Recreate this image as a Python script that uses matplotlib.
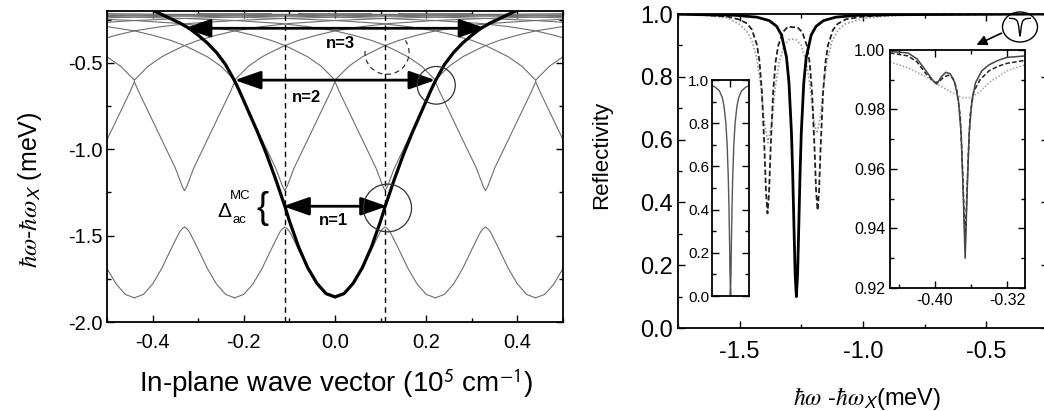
import numpy as np
import matplotlib
matplotlib.use("Agg")
import matplotlib.pyplot as plt
from matplotlib.patches import Ellipse, Arc, FancyArrowPatch
from matplotlib.ticker import MultipleLocator, FixedLocator

plt.rcParams["font.family"] = ["Liberation Sans", "DejaVu Sans"]
plt.rcParams["mathtext.fontset"] = "stix"

# ---- left panel: folded polariton dispersion (meV vs 1e5 cm^-1) ----
G = 0.22  # folding period

BOLD_K = [0.0, 0.02, 0.04, 0.06, 0.08, 0.10, 0.11, 0.13, 0.15, 0.17, 0.19,
          0.21, 0.22, 0.24, 0.26, 0.28, 0.30, 0.32, 0.34, 0.36, 0.38, 0.40]
BOLD_E = [-1.855, -1.835, -1.775, -1.685, -1.565, -1.415, -1.33, -1.175, -1.03,
          -0.90, -0.78, -0.66, -0.605, -0.51, -0.44, -0.385, -0.34, -0.30,
          -0.27, -0.245, -0.22, -0.195]

# lowest band, one period
BAND1_K = [0.0, 0.02, 0.04, 0.06, 0.08, 0.095, 0.10, 0.105, 0.11, 0.115, 0.12,
           0.125, 0.14, 0.16, 0.18, 0.20, 0.22]
BAND1_E = [-1.86, -1.84, -1.78, -1.69, -1.58, -1.50, -1.475, -1.46, -1.45,
           -1.46, -1.475, -1.50, -1.58, -1.69, -1.78, -1.84, -1.86]

# second band, one period
BAND2_K = [0.0, 0.01, 0.03, 0.05, 0.07, 0.09, 0.10, 0.105, 0.11, 0.115, 0.12,
           0.13, 0.15, 0.17, 0.19, 0.21, 0.22]
BAND2_E = [-0.61, -0.67, -0.78, -0.89, -1.00, -1.11, -1.18, -1.215, -1.24,
           -1.215, -1.18, -1.11, -1.00, -0.89, -0.78, -0.67, -0.61]

# upper folded branches (distance from branch centre)
UP_Q = [0.22, 0.25, 0.28, 0.31, 0.33, 0.36, 0.40, 0.44, 0.50, 0.56, 0.66,
        0.77, 0.88, 1.0, 1.2, 1.4]
UP_E = [-0.60, -0.52, -0.465, -0.425, -0.40, -0.37, -0.34, -0.315, -0.29,
        -0.272, -0.255, -0.243, -0.235, -0.228, -0.22, -0.215]

# ---- right panel: reflectivity spectra ----
SOLID_X = [-1.75, -1.67, -1.52, -1.43, -1.38, -1.35, -1.33, -1.31, -1.30, -1.29,
           -1.285, -1.28, -1.275, -1.27, -1.265, -1.26, -1.255, -1.25, -1.24,
           -1.23, -1.21, -1.19, -1.16, -1.11, -1.02, -0.87, -0.25]
SOLID_R = [1.0, 0.998, 0.996, 0.99, 0.979, 0.961, 0.933, 0.862, 0.781, 0.623,
           0.494, 0.331, 0.172, 0.10, 0.172, 0.331, 0.494, 0.623, 0.781, 0.862,
           0.933, 0.961, 0.979, 0.99, 0.996, 0.998, 1.0]

DASH_X = [-1.75, -1.65, -1.55, -1.50, -1.47, -1.45, -1.43, -1.42, -1.41, -1.40,
          -1.393, -1.387, -1.381, -1.374, -1.364, -1.354, -1.344, -1.324, -1.304,
          -1.285, -1.266, -1.246, -1.226, -1.216, -1.206, -1.196, -1.19, -1.184,
          -1.178, -1.172, -1.162, -1.152, -1.142, -1.122, -1.102, -1.07, -1.0,
          -0.9, -0.75, -0.25]
DASH_R = [0.999, 0.997, 0.992, 0.982, 0.970, 0.950, 0.902, 0.852, 0.756, 0.582,
          0.43, 0.365, 0.428, 0.58, 0.754, 0.849, 0.898, 0.943, 0.96, 0.958,
          0.958, 0.942, 0.896, 0.844, 0.745, 0.565, 0.436, 0.375, 0.437, 0.57,
          0.747, 0.847, 0.90, 0.949, 0.969, 0.983, 0.992, 0.996, 0.998, 1.0]

DOT_X = [-1.75, -1.65, -1.55, -1.50, -1.47, -1.45, -1.43, -1.415, -1.40, -1.385,
         -1.37, -1.355, -1.34, -1.32, -1.30, -1.286, -1.27, -1.25, -1.23, -1.215,
         -1.20, -1.187, -1.174, -1.16, -1.145, -1.125, -1.10, -1.07, -1.0, -0.9,
         -0.75, -0.5, -0.25]
DOT_R = [0.999, 0.997, 0.988, 0.967, 0.944, 0.915, 0.856, 0.775, 0.656, 0.59,
         0.653, 0.769, 0.846, 0.899, 0.918, 0.92, 0.918, 0.90, 0.848, 0.771,
         0.662, 0.62, 0.665, 0.77, 0.853, 0.914, 0.950, 0.969, 0.986, 0.994,
         0.997, 0.999, 0.999]

# left inset (full-scale view of one dip)
IN1_X = [-1.0, -0.8, -0.6, -0.45, -0.35, -0.25, -0.18, -0.12, -0.08, -0.05,
         -0.03, 0.0, 0.03, 0.05, 0.08, 0.12, 0.18, 0.25, 0.35, 0.45, 0.6, 0.8, 1.0]
IN1_R = [0.975, 0.965, 0.95, 0.92, 0.88, 0.80, 0.70, 0.55, 0.40, 0.25, 0.12,
         0.0, 0.12, 0.25, 0.40, 0.55, 0.70, 0.80, 0.88, 0.92, 0.95, 0.965, 0.975]

# right inset (zoom near the exciton)
IN2_SX = [-0.45, -0.43, -0.42, -0.41, -0.403, -0.398, -0.393, -0.388, -0.383,
          -0.378, -0.374, -0.371, -0.369, -0.3675, -0.3665, -0.3655, -0.364,
          -0.362, -0.359, -0.355, -0.348, -0.34, -0.33, -0.32, -0.30]
IN2_SR = [0.9995, 0.999, 0.997, 0.993, 0.990, 0.9885, 0.991, 0.9925, 0.992,
          0.989, 0.983, 0.972, 0.955, 0.94, 0.93, 0.94, 0.955, 0.972, 0.983,
          0.989, 0.993, 0.995, 0.9965, 0.9975, 0.998]
IN2_DX = [-0.45, -0.43, -0.42, -0.41, -0.40, -0.395, -0.39, -0.385, -0.38,
          -0.376, -0.372, -0.37, -0.368, -0.3665, -0.365, -0.363, -0.361,
          -0.357, -0.35, -0.34, -0.33, -0.32, -0.30]
IN2_DR = [0.999, 0.998, 0.996, 0.992, 0.989, 0.9895, 0.991, 0.9915, 0.9905,
          0.987, 0.978, 0.965, 0.948, 0.935, 0.948, 0.965, 0.978, 0.986, 0.990,
          0.993, 0.9945, 0.9955, 0.9965]
IN2_GX = [-0.45, -0.43, -0.41, -0.395, -0.38, -0.37, -0.36, -0.35, -0.34,
          -0.33, -0.32, -0.30]
IN2_GR = [0.996, 0.994, 0.991, 0.988, 0.9855, 0.984, 0.984, 0.986, 0.989,
          0.991, 0.993, 0.995]


def style_ticks(ax, size):
    ax.tick_params(which="both", direction="in", top=True, right=True,
                   labelsize=size, width=1.0)
    ax.tick_params(which="major", length=5)
    ax.tick_params(which="minor", length=3)
    for s in ax.spines.values():
        s.set_linewidth(1.3)


fig = plt.figure(figsize=(10.44, 4.11), dpi=100)

# ── left panel ────────────────────────────────────────────────────────────
ax = fig.add_axes([0.1025, 0.2165, 0.4368, 0.7567])
thin = dict(color="#6e6e6e", lw=0.8)
b1k, b1e = np.array(BAND1_K), np.array(BAND1_E)
b2k, b2e = np.array(BAND2_K), np.array(BAND2_E)
uq, ue = np.array(UP_Q), np.array(UP_E)
for m in range(-4, 4):
    ax.plot(b1k + m * G, b1e, **thin)
    ax.plot(b2k + m * G, b2e, **thin)
for m in range(-7, 8):
    ax.plot(m * G + uq, ue, **thin)
    ax.plot(m * G - uq, ue, **thin)

bk = np.array(BOLD_K)
ax.plot(np.r_[-bk[::-1], bk[1:]], np.r_[BOLD_E[::-1], BOLD_E[1:]],
        color="black", lw=2.3, zorder=5)

for x in (-0.11, 0.11):
    ax.axvline(x, color="black", lw=1.0, ls=(0, (4, 3)), zorder=4)

arrow = dict(arrowstyle="<|-|>,head_length=0.8,head_width=0.28",
             color="black", lw=2.0, mutation_scale=20, shrinkA=0, shrinkB=0)
for k0, k1, e in ((-0.114, 0.114, -1.33), (-0.22, 0.22, -0.60), (-0.33, 0.33, -0.30)):
    ax.annotate("", xy=(k1, e), xytext=(k0, e), arrowprops=arrow, zorder=6)

ax.text(-0.004, -1.414, "n=1", fontsize=12, fontweight="bold", ha="center", va="center")
ax.text(-0.062, -0.70, "n=2", fontsize=12, fontweight="bold", ha="center", va="center")
ax.text(0.011, -0.39, "n=3", fontsize=12, fontweight="bold", ha="center", va="center")

ax.add_patch(Ellipse((0.115, -1.34), 0.1055, 0.276, fill=False, lw=0.9, color="#333", zorder=6))
ax.add_patch(Ellipse((0.222, -0.63), 0.0835, 0.218, fill=False, lw=0.9, color="#333", zorder=6))
ax.add_patch(Arc((0.114, -0.44), 0.0967, 0.253, theta1=170, theta2=420,
                 lw=0.9, color="#333", ls=(0, (4, 3)), zorder=6))

ax.text(-0.242, -1.36, "Δ", fontsize=15, ha="center", va="center")
ax.text(-0.207, -1.27, "MC", fontsize=9.5, ha="center", va="center")
ax.text(-0.209, -1.408, "ac", fontsize=9.5, ha="center", va="center")
ax.text(-0.16, -1.345, "{", fontsize=26, ha="center", va="center", fontweight="light")

ax.set_xlim(-0.5, 0.5)
ax.set_ylim(-2.0, -0.2)
ax.xaxis.set_major_locator(FixedLocator([-0.4, -0.2, 0.0, 0.2, 0.4]))
ax.xaxis.set_minor_locator(MultipleLocator(0.1))
ax.yaxis.set_major_locator(FixedLocator([-2.0, -1.5, -1.0, -0.5]))
ax.yaxis.set_minor_locator(MultipleLocator(0.25))
ax.xaxis.set_major_formatter(plt.FormatStrFormatter("%.1f"))
ax.yaxis.set_major_formatter(plt.FormatStrFormatter("%.1f"))
style_ticks(ax, 14.5)
ax.tick_params(axis="x", pad=8)

fig.text(336 / 1044, 1 - 383 / 411,
         r"In-plane wave vector (10$^{\mathsf{5}}$ cm$^{\mathsf{-1}}$)",
         fontsize=20, ha="center", va="center")
fig.text(30 / 1044, 1 - 190 / 411,
         r"$\hbar\omega$-$\hbar\omega_{\mathsf{X}}$ (meV)",
         fontsize=18, ha="center", va="center", rotation=90)

# ── right panel ───────────────────────────────────────────────────────────
ax2 = fig.add_axes([0.6494, 0.2019, 0.3544, 0.764])
ax2.plot(DOT_X, DOT_R, color="#9a9a9a", lw=1.2, ls=(0, (1, 1.2)))
ax2.plot(DASH_X, DASH_R, color="#222222", lw=1.3, ls=(0, (3, 1.5)))
ax2.plot(SOLID_X, SOLID_R, color="black", lw=2.0)
ax2.set_xlim(-1.75, -0.25)
ax2.set_ylim(0.0, 1.0)
ax2.xaxis.set_major_locator(FixedLocator([-1.5, -1.0, -0.5]))
ax2.xaxis.set_minor_locator(MultipleLocator(0.25))
ax2.yaxis.set_major_locator(MultipleLocator(0.2))
ax2.yaxis.set_minor_locator(MultipleLocator(0.1))
ax2.xaxis.set_major_formatter(plt.FormatStrFormatter("%.1f"))
ax2.yaxis.set_major_formatter(plt.FormatStrFormatter("%.1f"))
style_ticks(ax2, 17)
ax2.tick_params(axis="x", pad=9)

fig.text(602 / 1044, 1 - 155 / 411, "Reflectivity", fontsize=16,
         ha="center", va="center", rotation=90)
fig.text(867 / 1044, 1 - 398 / 411,
         r"$\hbar\omega$ -$\hbar\omega_{\mathsf{X}}$(meV)",
         fontsize=17, ha="center", va="center")

# left inset
ins1 = fig.add_axes([0.682, 0.2798, 0.0354, 0.5255])
ins1.plot(IN1_X, IN1_R, color="#555555", lw=1.0)
ins1.set_xlim(-1.0, 1.0)
ins1.set_ylim(0.0, 1.0)
ins1.xaxis.set_major_locator(FixedLocator([0.0]))
ins1.set_xticklabels([])
ins1.yaxis.set_major_locator(MultipleLocator(0.2))
ins1.yaxis.set_minor_locator(MultipleLocator(0.1))
ins1.yaxis.set_major_formatter(plt.FormatStrFormatter("%.1f"))
style_ticks(ins1, 11)
ins1.tick_params(axis="y", pad=2)

# right inset
ins2 = fig.add_axes([0.8525, 0.2993, 0.1293, 0.5791])
ins2.plot(IN2_GX, IN2_GR, color="#a0a0a0", lw=1.1, ls=(0, (1, 1.2)))
ins2.plot(IN2_DX, IN2_DR, color="#222222", lw=1.1, ls=(0, (3, 1.5)))
ins2.plot(IN2_SX, IN2_SR, color="#444444", lw=1.1)
ins2.set_xlim(-0.45, -0.30)
ins2.set_ylim(0.92, 1.0)
ins2.xaxis.set_major_locator(FixedLocator([-0.40, -0.32]))
ins2.xaxis.set_minor_locator(MultipleLocator(0.04))
ins2.yaxis.set_major_locator(MultipleLocator(0.02))
ins2.yaxis.set_minor_locator(MultipleLocator(0.01))
ins2.xaxis.set_major_formatter(plt.FormatStrFormatter("%.2f"))
ins2.yaxis.set_major_formatter(plt.FormatStrFormatter("%.2f"))
style_ticks(ins2, 11.5)

# circled dip icon + arrow to the zoomed inset
icon = fig.add_axes([1009 / 1044, 1 - 38 / 411, 22 / 1044, 22 / 411])
icon.plot(SOLID_X, SOLID_R, color="black", lw=1.0)
icon.set_xlim(-1.42, -1.12)
icon.set_ylim(0.0, 1.1)
icon.axis("off")
fig.add_artist(Ellipse((1020 / 1044, 1 - 27 / 411), 35 / 1044, 30 / 411,
                       transform=fig.transFigure, fill=False, lw=1.0, color="black"))
fig.add_artist(FancyArrowPatch((1004 / 1044, 1 - 32 / 411), (974 / 1044, 1 - 46 / 411),
                               transform=fig.transFigure, arrowstyle="-|>,head_length=6,head_width=3",
                               color="black", lw=1.2))

fig.savefig("out.png", dpi=100)
